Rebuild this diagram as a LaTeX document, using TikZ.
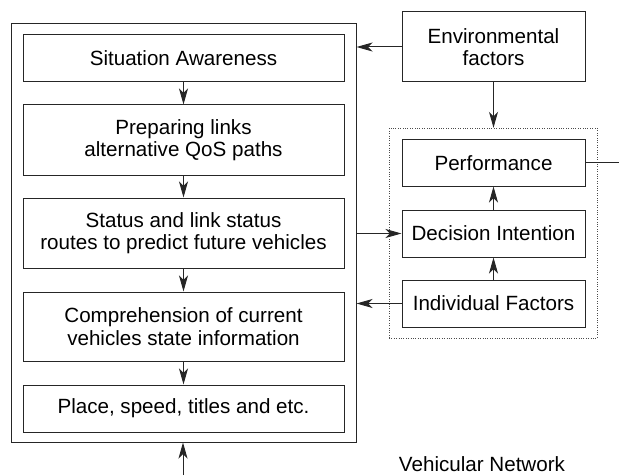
\documentclass[tikz,border=0pt]{standalone}
\usepackage{fontspec}
\setmainfont{Liberation Sans}
\usetikzlibrary{arrows.meta}
\begin{document}
\begin{tikzpicture}[x=1pt, y=1pt,
    box/.style={draw=black!85, line width=1pt, align=center, inner sep=0pt,
      font=\fontsize{20.6}{22.5}\selectfont},
    arr/.style={line width=1pt, draw=black!85, -{Stealth[length=16pt, width=9pt, inset=4.5pt]}}]
  \useasboundingbox (0,0) rectangle (619,475);
  % outer frame and the stack of steps
  \node[draw=black!85, line width=1pt, minimum width=345, minimum height=418] (outer) at (183.5,242) {};
  \foreach \name/\y/\h/\txt in {b1/416.5/47/{Situation Awareness},
      b2/335/70/{Preparing links\\ alternative QoS paths},
      b3/242/70/{Status and link status\\routes to predict future vehicles},
      b4/148.5/69/{Comprehension of current\\vehicles state information},
      b5/66.5/47/{Place, speed, titles and etc.}} {
    \node[box, minimum width=321, minimum height=\h] (\name) at (183.5,\y) {\txt};
  }
  \foreach \a/\b in {b1/b2, b2/b3, b3/b4, b4/b5} {
    \draw[arr] (\a) -- (\b);
  }
  % right side
  \node[box, minimum width=183, minimum height=70] (env) at (493.5,428) {Environmental\\factors};
  \node[draw=black!70, dotted, minimum width=208, minimum height=210] (grp) at (493,242) {};
  \node[box, minimum width=183, minimum height=46] (perf) at (493.5,312) {Performance};
  \node[box, minimum width=183, minimum height=47] (dec) at (493.5,241.5) {Decision Intention};
  \node[box, minimum width=183, minimum height=47] (ind) at (493.5,171.5) {Individual Factors};
  \coordinate (out) at (619,312);
  \coordinate (net) at (183,0);
  \draw[arr] (env.west) -- (outer.east |- env.west);
  \draw[arr] (env) -- (grp.north -| env);
  \draw[arr] (dec) -- (perf);
  \draw[arr] (ind) -- (dec);
  \draw[arr] (outer.east |- dec.west) -- (dec.west);
  \draw[arr] (ind.west) -- (outer.east |- ind.west);
  \draw[line width=1pt, black!85] (perf.east) -- (out);
  \draw[arr] (net) -- (outer.south -| net);
  \node[font=\fontsize{20.6}{22.5}\selectfont, anchor=base, inner sep=0pt] (lbl) at (482,4) {Vehicular Network};
\end{tikzpicture}
\end{document}
